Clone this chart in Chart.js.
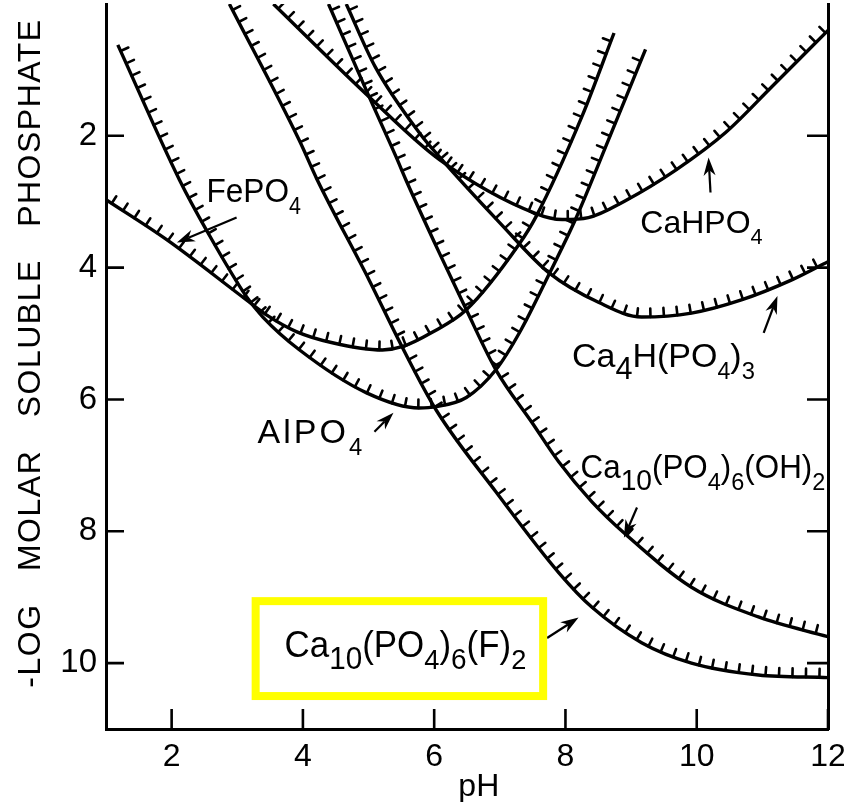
<!DOCTYPE html>
<html><head><meta charset="utf-8">
<script src="https://cdn.jsdelivr.net/npm/chart.js@4.4.1/dist/chart.umd.min.js"></script>
<style>html,body{margin:0;padding:0;background:#fff;}#wrap{width:844px;height:802px;}</style>
</head><body><div id="wrap"><canvas id="c" width="844" height="802"></canvas></div>
<script>
// ---- axis ticks ----
const xTicks = [2, 4, 6, 8, 10, 12];
const yTicks = [2, 4, 6, 8, 10];

// ---- series (pH vs -log molar soluble phosphate) ----
const fePO4_pH = [1.0, 1.93, 3.14, 3.45, 3.9, 4.45, 5.21, 5.51, 5.97, 6.49, 7.29, 7.55, 8.25, 8.74];
const fePO4_pP = [2.97, 3.58, 4.49, 4.72, 4.97, 5.14, 5.25, 5.20, 4.98, 4.64, 3.65, 3.23, 1.71, 0.44];

const alPO4_pH = [1.18, 2.12, 2.53, 3.14, 3.39, 3.95, 4.97, 5.77, 6.03, 6.49, 6.94, 7.32, 7.75, 8.16, 8.66, 9.22];
const alPO4_pP = [0.62, 2.67, 3.43, 4.44, 4.75, 5.25, 5.90, 6.13, 6.11, 5.97, 5.55, 4.95, 4.10, 3.25, 2.05, 0.69];

const caHPO4_pH = [3.55, 5.01, 6.08, 7.55, 7.95, 8.35, 8.92, 9.68, 10.44, 11.14, 12.0];
const caHPO4_pP = [0.0, 1.41, 2.36, 3.18, 3.27, 3.24, 2.98, 2.52, 1.95, 1.26, 0.40];

const ca4H_pH = [4.66, 5.10, 5.77, 6.08, 7.0, 7.75, 8.51, 9.16, 9.92, 10.68, 11.44, 12.0];
const ca4H_pP = [0.0, 0.95, 1.95, 2.32, 3.32, 4.08, 4.53, 4.75, 4.69, 4.49, 4.19, 3.91];

const hap_pH = [4.39, 5.01, 5.42, 5.57, 6.08, 6.49, 6.94, 7.49, 7.90, 8.40, 8.92, 9.92, 10.94, 12.0];
const hap_pP = [0.0, 1.41, 2.32, 2.67, 3.78, 4.64, 5.55, 6.35, 6.95, 7.55, 8.05, 8.85, 9.30, 9.60];

const fap_pH = [2.88, 3.95, 4.21, 5.01, 5.51, 6.03, 6.94, 7.90, 8.40, 9.16, 9.92, 10.94, 12.0];
const fap_pP = [0.0, 2.08, 2.65, 4.19, 5.20, 6.16, 7.40, 8.63, 9.15, 9.69, 10.0, 10.18, 10.22];

const seriesNames = ['FePO4', 'AlPO4', 'CaHPO4', 'Ca4H(PO4)3', 'Ca10(PO4)6(OH)2', 'Ca10(PO4)6(F)2'];
const seriesX = [fePO4_pH, alPO4_pH, caHPO4_pH, ca4H_pH, hap_pH, fap_pH];
const seriesY = [fePO4_pP, alPO4_pP, caHPO4_pP, ca4H_pP, hap_pP, fap_pP];

const FONT = '"Liberation Sans", Arial, "Helvetica", sans-serif';

// curve labels: text parts [text, subscriptScale(0 = normal)]
const notes = [
  {x: 2.53, y: 3.0, size: 34, sx: 0.93, parts: [['FePO',0],['4',0.68]]},
  {x: 9.14, y: 3.47, size: 32, sx: 1.0, parts: [['CaHPO',0],['4',0.68]]},
  {x: 8.10, y: 5.5, size: 34, sx: 1.0, parts: [['Ca',0],['4',0.9],['H(PO',0],['4',0.68],[')',0],['3',0.7]]},
  {x: 3.31, y: 6.66, size: 34, sx: 1.0, ls: 3, parts: [['AlPO',0],['4',0.7]]},
  {x: 8.23, y: 7.19, size: 33, sx: 0.95, parts: [['Ca',0],['10',0.9],['(PO',0],['4',0.75],[')',0],['6',0.75],['(OH)',0],['2',0.75]]},
  {x: 3.72, y: 9.9, size: 36, sx: 0.97, parts: [['Ca',0],['10',0.85],['(PO',0],['4',0.78],[')',0],['6',0.8],['(F)',0],['2',0.78]]}
];
// arrows: tail -> head (data coords)
const arrows = [
  {x1: 2.99, y1: 3.24, x2: 2.08, y2: 3.62},
  {x1: 10.21, y1: 2.86, x2: 10.18, y2: 2.33},
  {x1: 11.02, y1: 4.99, x2: 11.23, y2: 4.43},
  {x1: 5.09, y1: 6.49, x2: 5.38, y2: 6.20},
  {x1: 9.09, y1: 7.64, x2: 8.89, y2: 8.10},
  {x1: 7.72, y1: 9.62, x2: 8.20, y2: 9.31}
];
const highlightBox = {x1: 3.28, y1: 9.06, x2: 7.66, y2: 10.5};

const datasets = seriesNames.map((n, i) => ({
  label: n,
  data: seriesX[i].map((v, k) => ({x: v, y: seriesY[i][k]})),
  borderColor: '#000', borderWidth: 3.4, pointRadius: 0, fill: false,
  cubicInterpolationMode: 'monotone', yAxisID: 'y'
}));

const hatchPlugin = {
  id: 'hatch',
  afterDatasetsDraw(chart) {
    const ctx = chart.ctx, a = chart.chartArea;
    const SP = 13.5, LEN = 8.5;
    const B = (t, p, q, r, s) => { const u = 1 - t; return u*u*u*p + 3*u*u*t*q + 3*u*t*t*r + t*t*t*s; };
    const D = (t, p, q, r, s) => { const u = 1 - t; return 3*u*u*(q-p) + 6*u*t*(r-q) + 3*t*t*(s-r); };
    ctx.save();
    ctx.beginPath(); ctx.rect(a.left, a.top, a.right - a.left, a.bottom - a.top); ctx.clip();
    ctx.strokeStyle = '#000'; ctx.lineWidth = 2.6; ctx.lineCap = 'round';
    chart.data.datasets.forEach((ds, di) => {
      const pts = chart.getDatasetMeta(di).data;
      let acc = 0, nextAt = SP * 0.5;
      ctx.beginPath();
      for (let i = 0; i < pts.length - 1; i++) {
        const p0 = pts[i], p3 = pts[i+1];
        const c1x = p0.cp2x ?? p0.x, c1y = p0.cp2y ?? p0.y;
        const c2x = p3.cp1x ?? p3.x, c2y = p3.cp1y ?? p3.y;
        let px = p0.x, py = p0.y; const N = 80;
        for (let k = 1; k <= N; k++) {
          const t = k / N;
          const x = B(t, p0.x, c1x, c2x, p3.x), y = B(t, p0.y, c1y, c2y, p3.y);
          const seg = Math.hypot(x - px, y - py);
          if (seg > 0) {
            while (acc + seg >= nextAt) {
              const f = (nextAt - acc) / seg, tt = (k - 1 + f) / N;
              const hx = B(tt, p0.x, c1x, c2x, p3.x), hy = B(tt, p0.y, c1y, c2y, p3.y);
              let dx = D(tt, p0.x, c1x, c2x, p3.x), dy = D(tt, p0.y, c1y, c2y, p3.y);
              const l = Math.hypot(dx, dy) || 1; dx /= l; dy /= l;
              let nx = dy, ny = -dx; if (ny > 0) { nx = -nx; ny = -ny; }
              ctx.moveTo(hx, hy); ctx.lineTo(hx + nx * LEN, hy + ny * LEN);
              nextAt += SP;
            }
          }
          acc += seg; px = x; py = y;
        }
      }
      ctx.stroke();
    });
    ctx.restore();
  }
};

function drawRich(ctx, n, X, Y) {
  ctx.save();
  ctx.translate(X, Y); ctx.scale(n.sx || 1, 1);
  ctx.fillStyle = '#000'; ctx.textBaseline = 'alphabetic'; ctx.textAlign = 'left';
  if (n.ls) ctx.letterSpacing = n.ls + 'px';
  let cx = 0;
  n.parts.forEach(([t, s]) => {
    const fs = s ? n.size * s : n.size;
    ctx.font = fs + 'px ' + FONT;
    const dy = s ? n.size * 0.36 : 0;
    ctx.fillText(t, cx, dy);
    cx += ctx.measureText(t).width;
  });
  ctx.restore();
}

function drawArrow(ctx, x1, y1, x2, y2) {
  const ang = Math.atan2(y2 - y1, x2 - x1), L = 18, W = 6;
  ctx.beginPath(); ctx.moveTo(x1, y1);
  ctx.lineTo(x2 - Math.cos(ang) * L * 0.7, y2 - Math.sin(ang) * L * 0.7); ctx.stroke();
  ctx.beginPath(); ctx.moveTo(x2, y2);
  ctx.lineTo(x2 - Math.cos(ang) * L - Math.sin(ang) * W, y2 - Math.sin(ang) * L + Math.cos(ang) * W);
  ctx.lineTo(x2 - Math.cos(ang) * L * 0.7, y2 - Math.sin(ang) * L * 0.7);
  ctx.lineTo(x2 - Math.cos(ang) * L + Math.sin(ang) * W, y2 - Math.sin(ang) * L - Math.cos(ang) * W);
  ctx.closePath(); ctx.fill();
}

const decorPlugin = {
  id: 'decor',
  afterDraw(chart) {
    const {ctx, chartArea: a, scales: {x, y}} = chart;
    ctx.save();
    // inward tick marks
    ctx.strokeStyle = '#000'; ctx.lineWidth = 2.6; ctx.beginPath();
    xTicks.forEach(v => { const p = x.getPixelForValue(v); ctx.moveTo(p, a.bottom); ctx.lineTo(p, a.bottom - 20); });
    yTicks.forEach(v => { const p = y.getPixelForValue(v);
      ctx.moveTo(a.left, p); ctx.lineTo(a.left + 18, p);
      ctx.moveTo(a.right, p); ctx.lineTo(a.right - 21, p); });
    ctx.stroke();
    // labels
    notes.forEach(n => drawRich(ctx, n, x.getPixelForValue(n.x), y.getPixelForValue(n.y)));
    // arrows
    ctx.lineWidth = 2.2; ctx.fillStyle = '#000';
    arrows.forEach(r => drawArrow(ctx, x.getPixelForValue(r.x1), y.getPixelForValue(r.y1), x.getPixelForValue(r.x2), y.getPixelForValue(r.y2)));
    // highlight box
    ctx.strokeStyle = '#ffff00'; ctx.lineWidth = 8;
    const bx1 = x.getPixelForValue(highlightBox.x1), bx2 = x.getPixelForValue(highlightBox.x2);
    const by1 = y.getPixelForValue(highlightBox.y1), by2 = y.getPixelForValue(highlightBox.y2);
    ctx.strokeRect(bx1, by1, bx2 - bx1, by2 - by1);
    // axis titles
    ctx.fillStyle = '#000';
    ctx.font = '32px ' + FONT;
    ctx.letterSpacing = '1.5px'; ctx.wordSpacing = '22px';
    ctx.textAlign = 'center'; ctx.textBaseline = 'middle';
    ctx.save(); ctx.translate(31, 353); ctx.rotate(-Math.PI / 2);
    ctx.fillText('-LOG MOLAR SOLUBLE PHOSPHATE', 0, 0);
    ctx.restore();
    ctx.letterSpacing = '0px'; ctx.wordSpacing = '0px';
    ctx.font = '32px ' + FONT; ctx.textBaseline = 'alphabetic';
    ctx.fillText('pH', x.getPixelForValue(6.68), chart.height - 6);
    ctx.restore();
  }
};

const noPad = s => { s.paddingTop = 0; s.paddingBottom = 0; s.paddingLeft = 0; s.paddingRight = 0; };

new Chart(document.getElementById('c'), {
  type: 'line',
  data: {datasets},
  options: {
    responsive: false, animation: false,
    layout: {padding: {left: 0, right: 16, top: 4, bottom: 0}},
    plugins: {legend: {display: false}, tooltip: {enabled: false}},
    scales: {
      x: {
        type: 'linear', min: 1, max: 12,
        afterBuildTicks: s => { s.ticks = xTicks.map(v => ({value: v})); },
        afterFit: s => { s.height = 73; noPad(s); },
        grid: {display: false, drawTicks: false},
        border: {display: true, width: 3, color: '#000'},
        ticks: {color: '#000', font: {family: FONT, size: 32}, padding: 9, maxRotation: 0, autoSkip: false}
      },
      y: {
        type: 'linear', reverse: true, min: 0, max: 11,
        afterBuildTicks: s => { s.ticks = yTicks.map(v => ({value: v})); },
        afterFit: s => { s.width = 106; noPad(s); },
        grid: {display: false, drawTicks: false},
        border: {display: true, width: 3, color: '#000'},
        ticks: {color: '#000', font: {family: FONT, size: 33}, padding: 9, autoSkip: false}
      },
      y2: {
        type: 'linear', position: 'right', reverse: true, min: 0, max: 11,
        afterFit: s => { s.width = 0; noPad(s); },
        grid: {display: false, drawTicks: false},
        border: {display: true, width: 3, color: '#000'},
        ticks: {display: false}
      }
    }
  },
  plugins: [hatchPlugin, decorPlugin]
});
</script></body></html>
